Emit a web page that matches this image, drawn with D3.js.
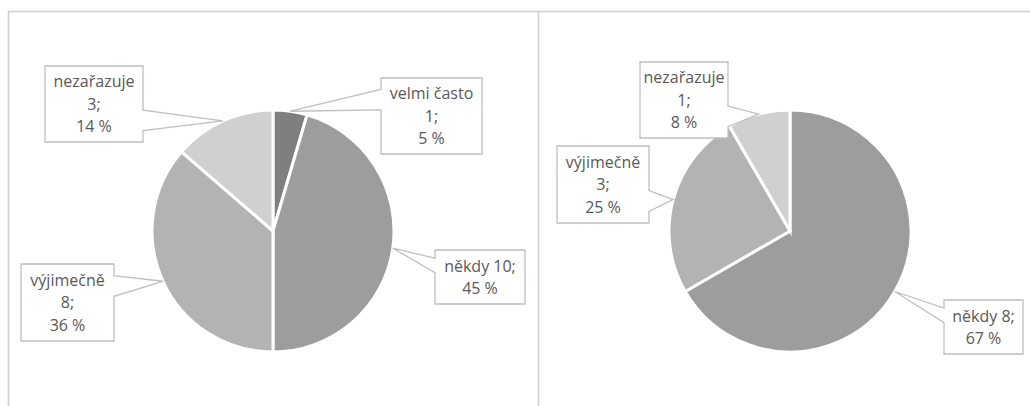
<html>
<head>
<meta charset="utf-8">
<style>
    body { margin: 0; background: #ffffff; }
    text { font-family: "Open Sans", sans-serif; font-size: 16px; fill: #595959; }
</style>
</head>
<body>
<svg id="container" width="1030" height="406"></svg>

<script src="https://cdn.jsdelivr.net/npm/d3@7"></script>
<script>
    // data
    const categories = ["velmi často", "někdy", "výjimečně", "nezařazuje"]
    const valuesLeft = [1, 10, 8, 3]
    const valuesRight = [0, 8, 3, 1]
    const colors = ["#7f7f7f", "#9d9d9d", "#b3b3b3", "#d0d0d0"]

    // callout boxes: [x, y, w, h, name and value on one line]
    const boxesLeft = [[381, 78, 101, 76, false], [435, 250, 90, 54, true], [21, 264, 93, 77, false], [45, 66, 98, 76, false]]
    const boxesRight = [null, [944, 300, 79, 54, true], [557, 146, 92, 77, false], [640, 62, 88, 76, false]]

    let svg = d3.select("#container")

    // frame
    svg.append("path")
        .attr("d", "M8.5,406 V11.5 H1030 M538.5,11.5 V406")
        .attr("fill", "none")
        .attr("stroke", "#cfcfcf")
        .attr("stroke-width", 1.6)

    let colorScale = d3.scaleOrdinal().domain(categories).range(colors)
    let radius = 121

    function drawPie(cx, cy, values, boxes) {
        let data = categories.map((c, i) => ({ cat: c, value: values[i], box: boxes[i] }))
        let total = d3.sum(values)
        let pie = d3.pie().sort(null).value(d => d.value)
        let arc = d3.arc().innerRadius(0).outerRadius(radius)
        let g = svg.append("g").attr("transform", `translate(${cx},${cy})`)

        let slices = pie(data)
        g.selectAll(".arc")
            .data(slices)
            .enter()
            .append("path")
            .attr("d", arc)
            .attr("fill", d => colorScale(d.data.cat))
            .attr("stroke", "#ffffff")
            .attr("stroke-width", 3)
            .attr("stroke-linejoin", "miter")

        slices.filter(d => d.data.value > 0 && d.data.box).forEach(d => {
            let [bx, by, bw, bh, oneLine] = d.data.box
            let mid = (d.startAngle + d.endAngle) / 2
            let ax = cx + radius * Math.sin(mid)
            let ay = cy - radius * Math.cos(mid)
            let up = ay < by + bh / 2
            let y1 = by + bh * (up ? 0.15 : 0.58)
            let y2 = by + bh * (up ? 0.42 : 0.85)
            let x0 = bx, x1 = bx + bw, yb = by + bh
            let p
            if (ax < bx) {
                p = `M${x0},${by} H${x1} V${yb} H${x0} V${y2} L${ax},${ay} L${x0},${y1} Z`
            } else {
                p = `M${x0},${by} H${x1} V${y1} L${ax},${ay} L${x1},${y2} V${yb} H${x0} Z`
            }
            svg.append("path")
                .attr("d", p)
                .attr("fill", "#ffffff")
                .attr("stroke", "#bfbfbf")
                .attr("stroke-width", 1.3)

            let pct = Math.round(d.data.value / total * 100) + " %"
            let lines = oneLine
                ? [d.data.cat + " " + d.data.value + ";", pct]
                : [d.data.cat, d.data.value + ";", pct]
            let lh = 22.5
            let top = by + bh / 2 - (lines.length - 1) * lh / 2
            let t = svg.append("text")
                .attr("text-anchor", "middle")
            lines.forEach((l, i) => {
                t.append("tspan")
                    .attr("x", bx + bw / 2)
                    .attr("y", top + i * lh)
                    .attr("dy", "0.36em")
                    .text(l)
            })
        })
    }

    drawPie(273, 231, valuesLeft, boxesLeft)
    drawPie(790, 231, valuesRight, boxesRight)
</script>
</body>
</html>
